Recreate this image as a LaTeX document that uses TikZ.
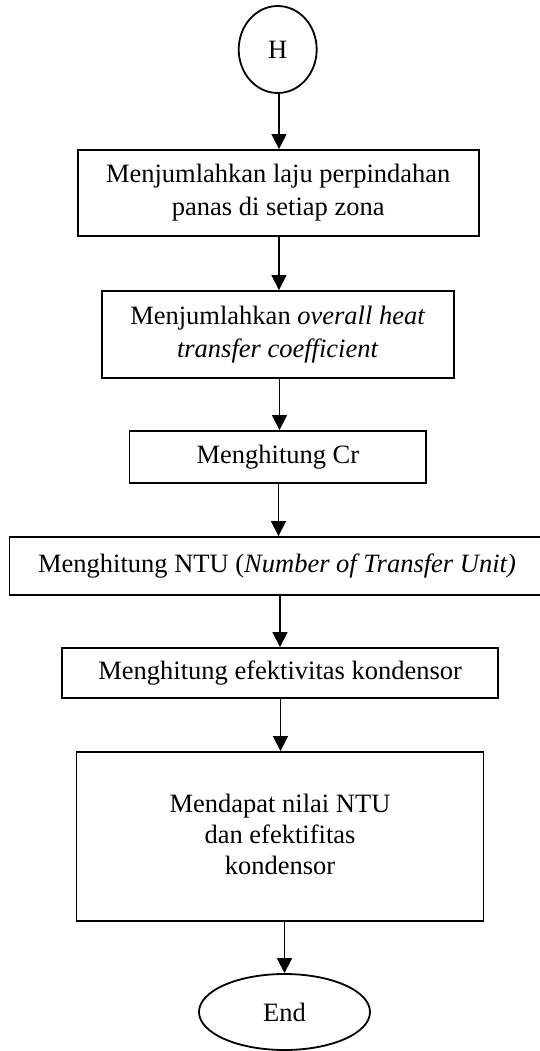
\documentclass[tikz,border=0pt]{standalone}
\usepackage{fontspec}
\setmainfont{Liberation Serif}
\usetikzlibrary{arrows.meta,shapes.geometric}
\begin{document}
\begin{tikzpicture}[x=1pt,y=-1pt,
  every node/.style={font=\fontsize{26.5}{33}\selectfont, align=center, inner sep=0pt},
  stepbox/.style={draw, line width=1.8pt, rectangle},
  term/.style={draw, line width=1.8pt, ellipse},
  arr/.style={line width=1.3pt, -{Triangle[width=15pt,length=15pt]}}]
\useasboundingbox (0,0) rectangle (540,1051);

% start connector and processing steps
\node[term, minimum width=78pt, minimum height=87pt] (start) at (277.7,49.5) {H};
\node[stepbox, minimum width=400.8pt, minimum height=86pt] (sumq) at (278.2,193)
  {Menjumlahkan laju perpindahan\\panas di setiap zona};
\node[stepbox, minimum width=352.3pt, minimum height=87pt] (sumu) at (277.75,334.5)
  {Menjumlahkan \textit{overall heat}\\\textit{transfer coefficient}};
\node[stepbox, minimum width=296.8pt, minimum height=52pt] (cr) at (277.9,457)
  {Menghitung Cr};
\node[stepbox, minimum width=535pt, minimum height=58pt] (ntu) at (277,566)
  {Menghitung NTU (\textit{Number of Transfer Unit)}};
\node[stepbox, minimum width=436.3pt, minimum height=50pt] (eff) at (280.15,673)
  {Menghitung efektivitas kondensor};
\node[stepbox, minimum width=407.1pt, minimum height=169pt] (res) at (280,836.5)
  {\raisebox{5pt}{\begin{tabular}{@{}c@{}}Mendapat nilai NTU\\[-2pt]dan efektifitas\\[-2pt]kondensor\end{tabular}}};
\node[term, minimum width=171pt, minimum height=76pt] (end) at (284.5,1012) {End};

% flow arrows
\draw[arr] (start.south -| 279,0) -- (sumq.north -| 279,0);
\draw[arr] (sumq.south -| 279,0) -- (sumu.north -| 279,0);
\draw[arr] (sumu.south -| 279.5,0) -- (cr.north -| 279.5,0);
\draw[arr] (cr.south -| 278.5,0) -- (ntu.north -| 278.5,0);
\draw[arr] (ntu.south -| 280,0) -- (eff.north -| 280,0);
\draw[arr] (eff.south -| 280.5,0) -- (res.north -| 280.5,0);
\draw[arr] (res.south -| end.north) -- (end.north);
\end{tikzpicture}
\end{document}
